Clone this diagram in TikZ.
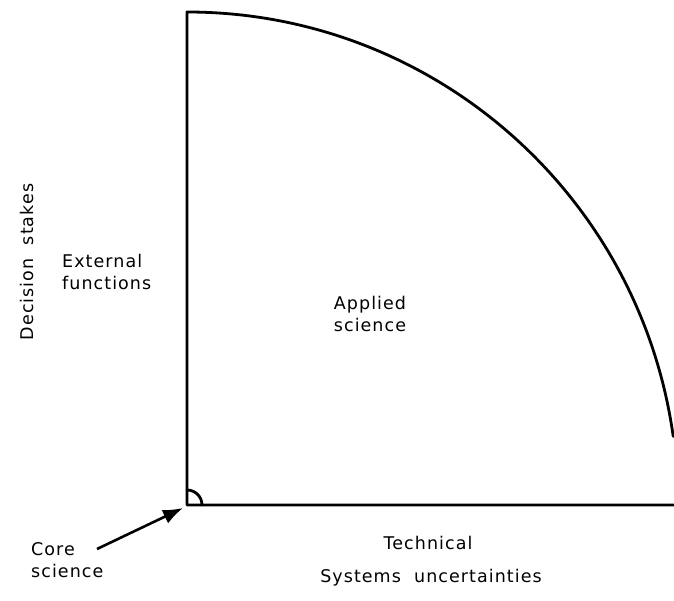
\documentclass[tikz,border=0pt]{standalone}
\usepackage{fontspec}
\setmainfont{DejaVu Sans}[LetterSpace=6,WordSpace=2]
\usetikzlibrary{arrows.meta}
\tikzset{
  axis/.style={line width=2.8pt,line cap=round,line join=round},
  lbl/.style={inner sep=0pt,font=\fontsize{17.5}{22}\selectfont},
  pointer/.style={line width=2.6pt,-{Latex[length=20pt,width=15pt]}}
}
\begin{document}
\begin{tikzpicture}[x=1pt,y=-1pt]
\useasboundingbox (0,0) rectangle (674,601);
\coordinate (O) at (187,505);
\coordinate (T) at (187,12);
\coordinate (R) at (674,505);
\draw[axis] (R) -- (O) -- (T) arc[start angle=90,end angle=8,x radius=491,y radius=-493];
\draw[axis] ([yshift=15pt]O) arc[start angle=90,end angle=0,radius=15pt];
\node[lbl,anchor=base,rotate=90] (dec) at (33,262) {Decision stakes};
\node[lbl,anchor=north west,align=left] (ext) at (62,254) {External\\functions};
\node[lbl,anchor=north,align=center] (app) at (370,296) {Applied\\science};
\node[lbl,anchor=north west,align=left] (core) at (31,542) {Core\\science};
\node[lbl,anchor=north] (tech) at (428,536) {Technical};
\node[lbl,anchor=north] (sys) at (431,569) {Systems uncertainties};
\coordinate (tail) at (97,549);
\coordinate (tip) at (183,508);
\draw[pointer] (tail) -- (tip);
\end{tikzpicture}
\end{document}
